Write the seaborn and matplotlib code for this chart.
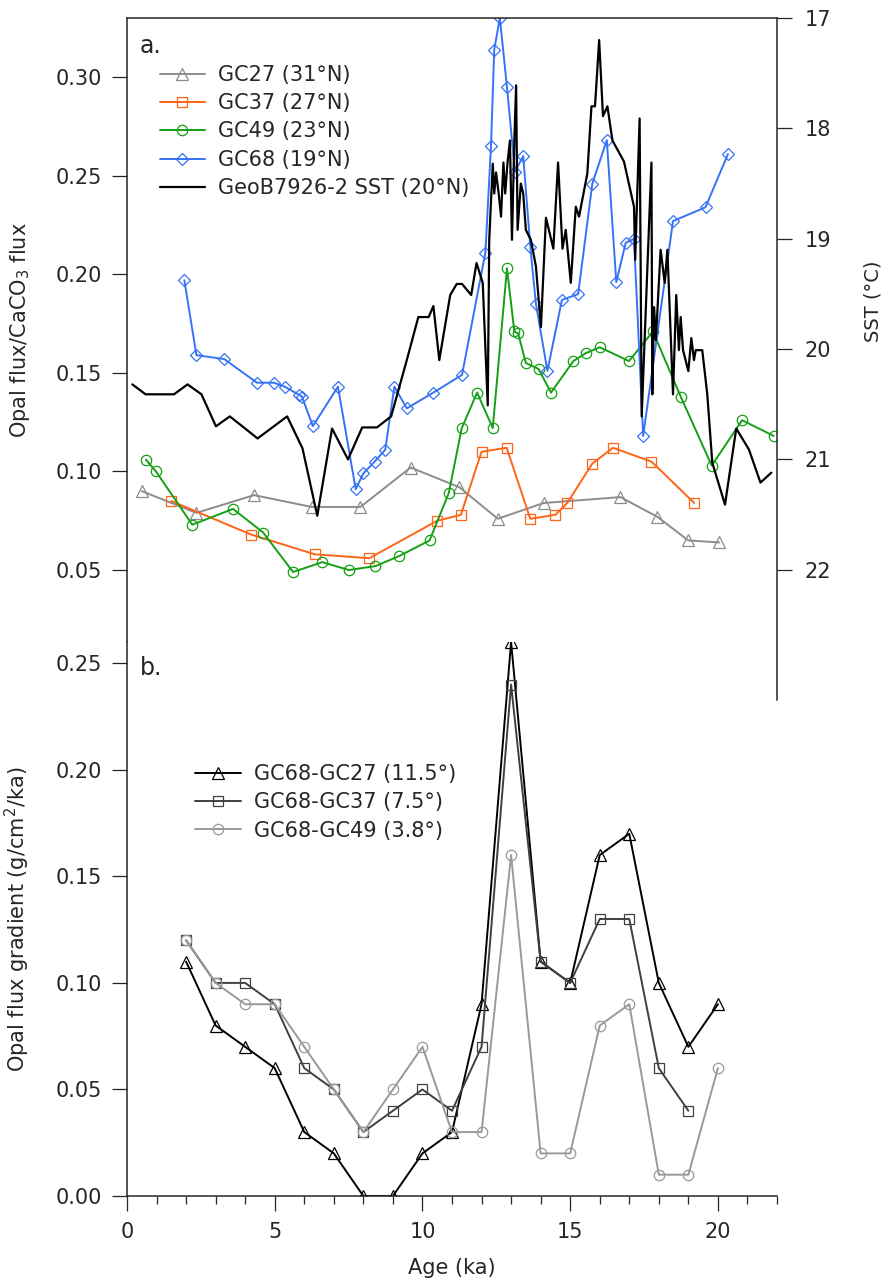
import numpy as np
import pandas as pd
import matplotlib
matplotlib.use("Agg")
import matplotlib.pyplot as plt
from matplotlib.ticker import MultipleLocator
import seaborn as sns

sns.set_style("ticks")
plt.rcParams['font.family'] = ['DejaVu Sans']

# ***** panel a: opal flux / CaCO3 flux ***** #
gc27_age = [0.5, 2.35, 4.3, 6.25, 7.9, 9.6, 11.25, 12.55, 14.1, 16.7, 17.95, 19.0, 20.05]
gc27_val = [0.090, 0.079, 0.088, 0.082, 0.082, 0.102, 0.092, 0.076, 0.084, 0.087, 0.077, 0.065, 0.064]

gc37_age = [1.5, 4.2, 6.35, 8.2, 10.5, 11.3, 12.0, 12.85, 13.65, 14.5, 14.9, 15.75, 16.45, 17.75, 19.2]
gc37_val = [0.085, 0.068, 0.058, 0.056, 0.075, 0.078, 0.110, 0.112, 0.076, 0.078, 0.084, 0.104, 0.112, 0.105, 0.084]

gc49_age = [0.64, 0.98, 2.21, 3.59, 4.61, 5.62, 6.61, 7.51, 8.41, 9.2, 10.24, 10.89, 11.33, 11.85,
            12.38, 12.86, 13.11, 13.24, 13.5, 13.93, 14.35, 15.11, 15.53, 16.0, 16.99, 17.8,
            18.74, 19.79, 20.82, 21.89]
gc49_val = [0.106, 0.100, 0.073, 0.081, 0.069, 0.049, 0.054, 0.050, 0.052, 0.057, 0.065, 0.089,
            0.122, 0.140, 0.122, 0.203, 0.171, 0.170, 0.155, 0.152, 0.140, 0.156, 0.160, 0.163,
            0.156, 0.171, 0.138, 0.103, 0.126, 0.118]

gc68_age = [1.94, 2.35, 3.29, 4.40, 4.97, 5.34, 5.81, 5.92, 6.29, 7.14, 7.74, 8.0, 8.38, 8.74,
            9.05, 9.47, 10.37, 11.34, 12.13, 12.32, 12.43, 12.62, 12.86, 13.13, 13.41, 13.65,
            13.84, 14.23, 14.72, 15.27, 15.75, 16.24, 16.56, 16.88, 17.16, 17.47, 18.48, 19.58, 20.34]
gc68_val = [0.197, 0.159, 0.157, 0.145, 0.145, 0.143, 0.139, 0.138, 0.123, 0.143, 0.091, 0.099,
            0.105, 0.111, 0.143, 0.132, 0.140, 0.149, 0.211, 0.265, 0.314, 0.330, 0.295, 0.252,
            0.260, 0.214, 0.185, 0.151, 0.187, 0.190, 0.246, 0.268, 0.196, 0.216, 0.218, 0.118,
            0.227, 0.234, 0.261]

sst_age = [0.18, 0.63, 1.59, 2.05, 2.52, 3.01, 3.48, 4.42, 5.42, 5.94, 6.44, 6.94, 7.48, 7.96,
           8.46, 8.94, 9.47, 9.86, 10.21, 10.37, 10.57, 10.94, 11.16, 11.34, 11.65, 11.83, 12.04,
           12.21, 12.26, 12.38, 12.43, 12.49, 12.58, 12.66, 12.74, 12.80, 12.88, 12.96, 13.03,
           13.11, 13.17, 13.22, 13.33, 13.41, 13.50, 13.67, 13.84, 14.01, 14.18, 14.43, 14.59,
           14.74, 14.85, 15.02, 15.19, 15.30, 15.58, 15.72, 15.84, 15.98, 16.11, 16.26, 16.43,
           16.82, 17.16, 17.20, 17.35, 17.42, 17.75, 17.78, 17.84, 17.90, 18.06, 18.20, 18.29,
           18.48, 18.59, 18.68, 18.74, 18.82, 19.00, 19.10, 19.19, 19.25, 19.47, 19.64, 19.81,
           20.24, 20.62, 21.05, 21.44, 21.81]
sst_val = [20.32, 20.41, 20.41, 20.32, 20.41, 20.70, 20.61, 20.81, 20.61, 20.90, 21.51, 20.72,
           21.00, 20.71, 20.71, 20.61, 20.10, 19.71, 19.71, 19.61, 20.10, 19.51, 19.41, 19.41,
           19.51, 19.22, 19.40, 20.51, 19.01, 18.32, 18.59, 18.40, 18.59, 18.80, 18.31, 18.59,
           18.31, 18.11, 19.01, 18.11, 17.61, 18.92, 18.50, 18.59, 18.92, 19.01, 19.25, 19.80,
           18.81, 19.09, 18.31, 19.09, 18.92, 19.40, 18.71, 18.80, 18.41, 17.80, 17.80, 17.20,
           17.89, 17.80, 18.11, 18.30, 18.71, 19.19, 17.91, 20.61, 18.31, 20.41, 19.62, 19.92,
           19.10, 19.40, 19.10, 20.41, 19.51, 20.01, 19.71, 20.01, 20.20, 19.90, 20.10, 20.01,
           20.01, 20.41, 21.03, 21.41, 20.72, 20.91, 21.21, 21.12]

# ***** panel b: opal flux gradient ***** #
grad_age = [2, 3, 4, 5, 6, 7, 8, 9, 10, 11, 12, 13, 14, 15, 16, 17, 18, 19, 20]
gc68_gc27 = [0.11, 0.08, 0.07, 0.06, 0.03, 0.02, 0.00, 0.00, 0.02, 0.03, 0.09, 0.26, 0.11, 0.10,
             0.16, 0.17, 0.10, 0.07, 0.09]
gc68_gc37 = [0.12, 0.10, 0.10, 0.09, 0.06, 0.05, 0.03, 0.04, 0.05, 0.04, 0.07, 0.24, 0.11, 0.10,
             0.13, 0.13, 0.06, 0.04, np.nan]
gc68_gc49 = [0.12, 0.10, 0.09, 0.09, 0.07, 0.05, 0.03, 0.05, 0.07, 0.03, 0.03, 0.16, 0.02, 0.02,
             0.08, 0.09, 0.01, 0.01, 0.06]

W, H = 885, 1287


def box(x0, y0, x1, y1):
    return [x0 / W, 1 - y1 / H, (x1 - x0) / W, (y1 - y0) / H]


fig = plt.figure(figsize=(W / 100, H / 100), dpi=100)
ax1 = fig.add_axes(box(127, 18, 777, 642))
ax2 = fig.add_axes(box(127, 642, 777, 1196))
ax_sst = fig.add_axes(box(127, 18, 777, 700))
for ax in (ax1, ax_sst):
    ax.patch.set_alpha(0)

fs = 15
lfs = 15
lw = 1.4
mk = dict(markerfacecolor="none", markeredgewidth=0.9)

top_series = [
    (gc27_age, gc27_val, "GC27 (31°N)", "#8c8c8c", "^", 8),
    (gc37_age, gc37_val, "GC37 (27°N)", "#ff6416", "s", 7.5),
    (gc49_age, gc49_val, "GC49 (23°N)", "#14a014", "o", 7.5),
    (gc68_age, gc68_val, "GC68 (19°N)", "#3572f5", "D", 6.3),
]
for age, val, lab, col, m, ms in top_series:
    sns.lineplot(x=age, y=val, ax=ax1, color=col, marker=m, markersize=ms,
                 markeredgecolor=col, linewidth=lw, sort=False, estimator=None,
                 label=lab, legend=False, **mk)

sns.lineplot(x=sst_age, y=sst_val, ax=ax_sst, color="black", linewidth=1.6,
             sort=False, estimator=None, label="GeoB7926-2 SST (20°N)", legend=False)

# axis limits
ax1.set_xlim(0, 22)
ax_sst.set_xlim(0, 22)
ax2.set_xlim(0, 22)
ax1.set_ylim(0.0135, 0.33)
ax_sst.set_ylim(23.18, 17)
ax2.set_ylim(0, 0.26)

# panel a styling
ax1.spines["bottom"].set_visible(False)
ax1.spines["right"].set_visible(False)
ax1.tick_params(axis="x", bottom=False, labelbottom=False)
ax1.yaxis.set_major_locator(MultipleLocator(0.05))
ax1.yaxis.set_major_formatter(plt.FormatStrFormatter("%.2f"))
ax1.tick_params(axis="y", direction="out", length=11, width=0.9, labelsize=fs, pad=7)
ax1.set_ylabel("Opal flux/CaCO$_3$ flux", fontsize=lfs)
ax1.yaxis.set_label_coords(-0.146, 0.5)

for s in ("left", "top", "bottom"):
    ax_sst.spines[s].set_visible(False)
ax_sst.yaxis.tick_right()
ax_sst.yaxis.set_label_position("right")
ax_sst.tick_params(axis="x", bottom=False, labelbottom=False)
ax_sst.set_yticks([17, 18, 19, 20, 21, 22])
ax_sst.tick_params(axis="y", direction="out", length=11, width=0.9, labelsize=fs, pad=9)
ax_sst.set_ylabel("SST (°C)", fontsize=lfs - 1, rotation=90)
ax_sst.yaxis.set_label_coords(1.133, 0.585)

for sp in list(ax1.spines.values()) + list(ax_sst.spines.values()):
    sp.set_linewidth(1.1)

ax1.text(0.02, 0.975, "a.", transform=ax1.transAxes, fontsize=17, va="top", ha="left")

handles = ax1.get_lines() + ax_sst.get_lines()
ax1.legend(handles=handles, labels=[h.get_label() for h in handles], loc="upper left",
           bbox_to_anchor=(0.05, 0.925), frameon=False, fontsize=fs, handlelength=2.2,
           handletextpad=0.6, labelspacing=0.4, borderpad=0, borderaxespad=0)

# panel b
bot_series = [
    (gc68_gc27, "GC68-GC27 (11.5°)", "black", "^", 8.5),
    (gc68_gc37, "GC68-GC37 (7.5°)", "#404040", "s", 7.5),
    (gc68_gc49, "GC68-GC49 (3.8°)", "#999999", "o", 7.5),
]
for val, lab, col, m, ms in bot_series:
    df = pd.DataFrame({"age": grad_age, "val": val}).dropna()
    sns.lineplot(data=df, x="age", y="val", ax=ax2, color=col, marker=m, markersize=ms,
                 markeredgecolor=col, linewidth=lw, sort=False, estimator=None,
                 label=lab, legend=False, **mk)

ax2.spines["top"].set_visible(False)
ax2.spines["right"].set_visible(False)
for sp in ax2.spines.values():
    sp.set_linewidth(1.1)
ax2.xaxis.set_major_locator(MultipleLocator(5))
ax2.xaxis.set_minor_locator(MultipleLocator(1))
ax2.yaxis.set_major_locator(MultipleLocator(0.05))
ax2.yaxis.set_major_formatter(plt.FormatStrFormatter("%.2f"))
ax2.tick_params(axis="both", which="major", direction="out", length=11, width=0.9,
                labelsize=fs, pad=7)
ax2.tick_params(axis="x", which="major", pad=8)
ax2.tick_params(axis="x", which="minor", direction="out", length=6, width=0.9)
ax2.set_xlabel("Age (ka)", fontsize=lfs, labelpad=11)
ax2.set_ylabel("Opal flux gradient (g/cm$^2$/ka)", fontsize=lfs)
ax2.yaxis.set_label_coords(-0.146, 0.5)
ax2.set_xticks([0, 5, 10, 15, 20])

ax2.text(0.02, 0.975, "b.", transform=ax2.transAxes, fontsize=17, va="top", ha="left")
ax2.legend(loc="upper left", bbox_to_anchor=(0.105, 0.78), frameon=False, fontsize=fs,
           handlelength=2.2, handletextpad=0.6, labelspacing=0.4, borderpad=0, borderaxespad=0)

fig.savefig("out.png", dpi=100)
